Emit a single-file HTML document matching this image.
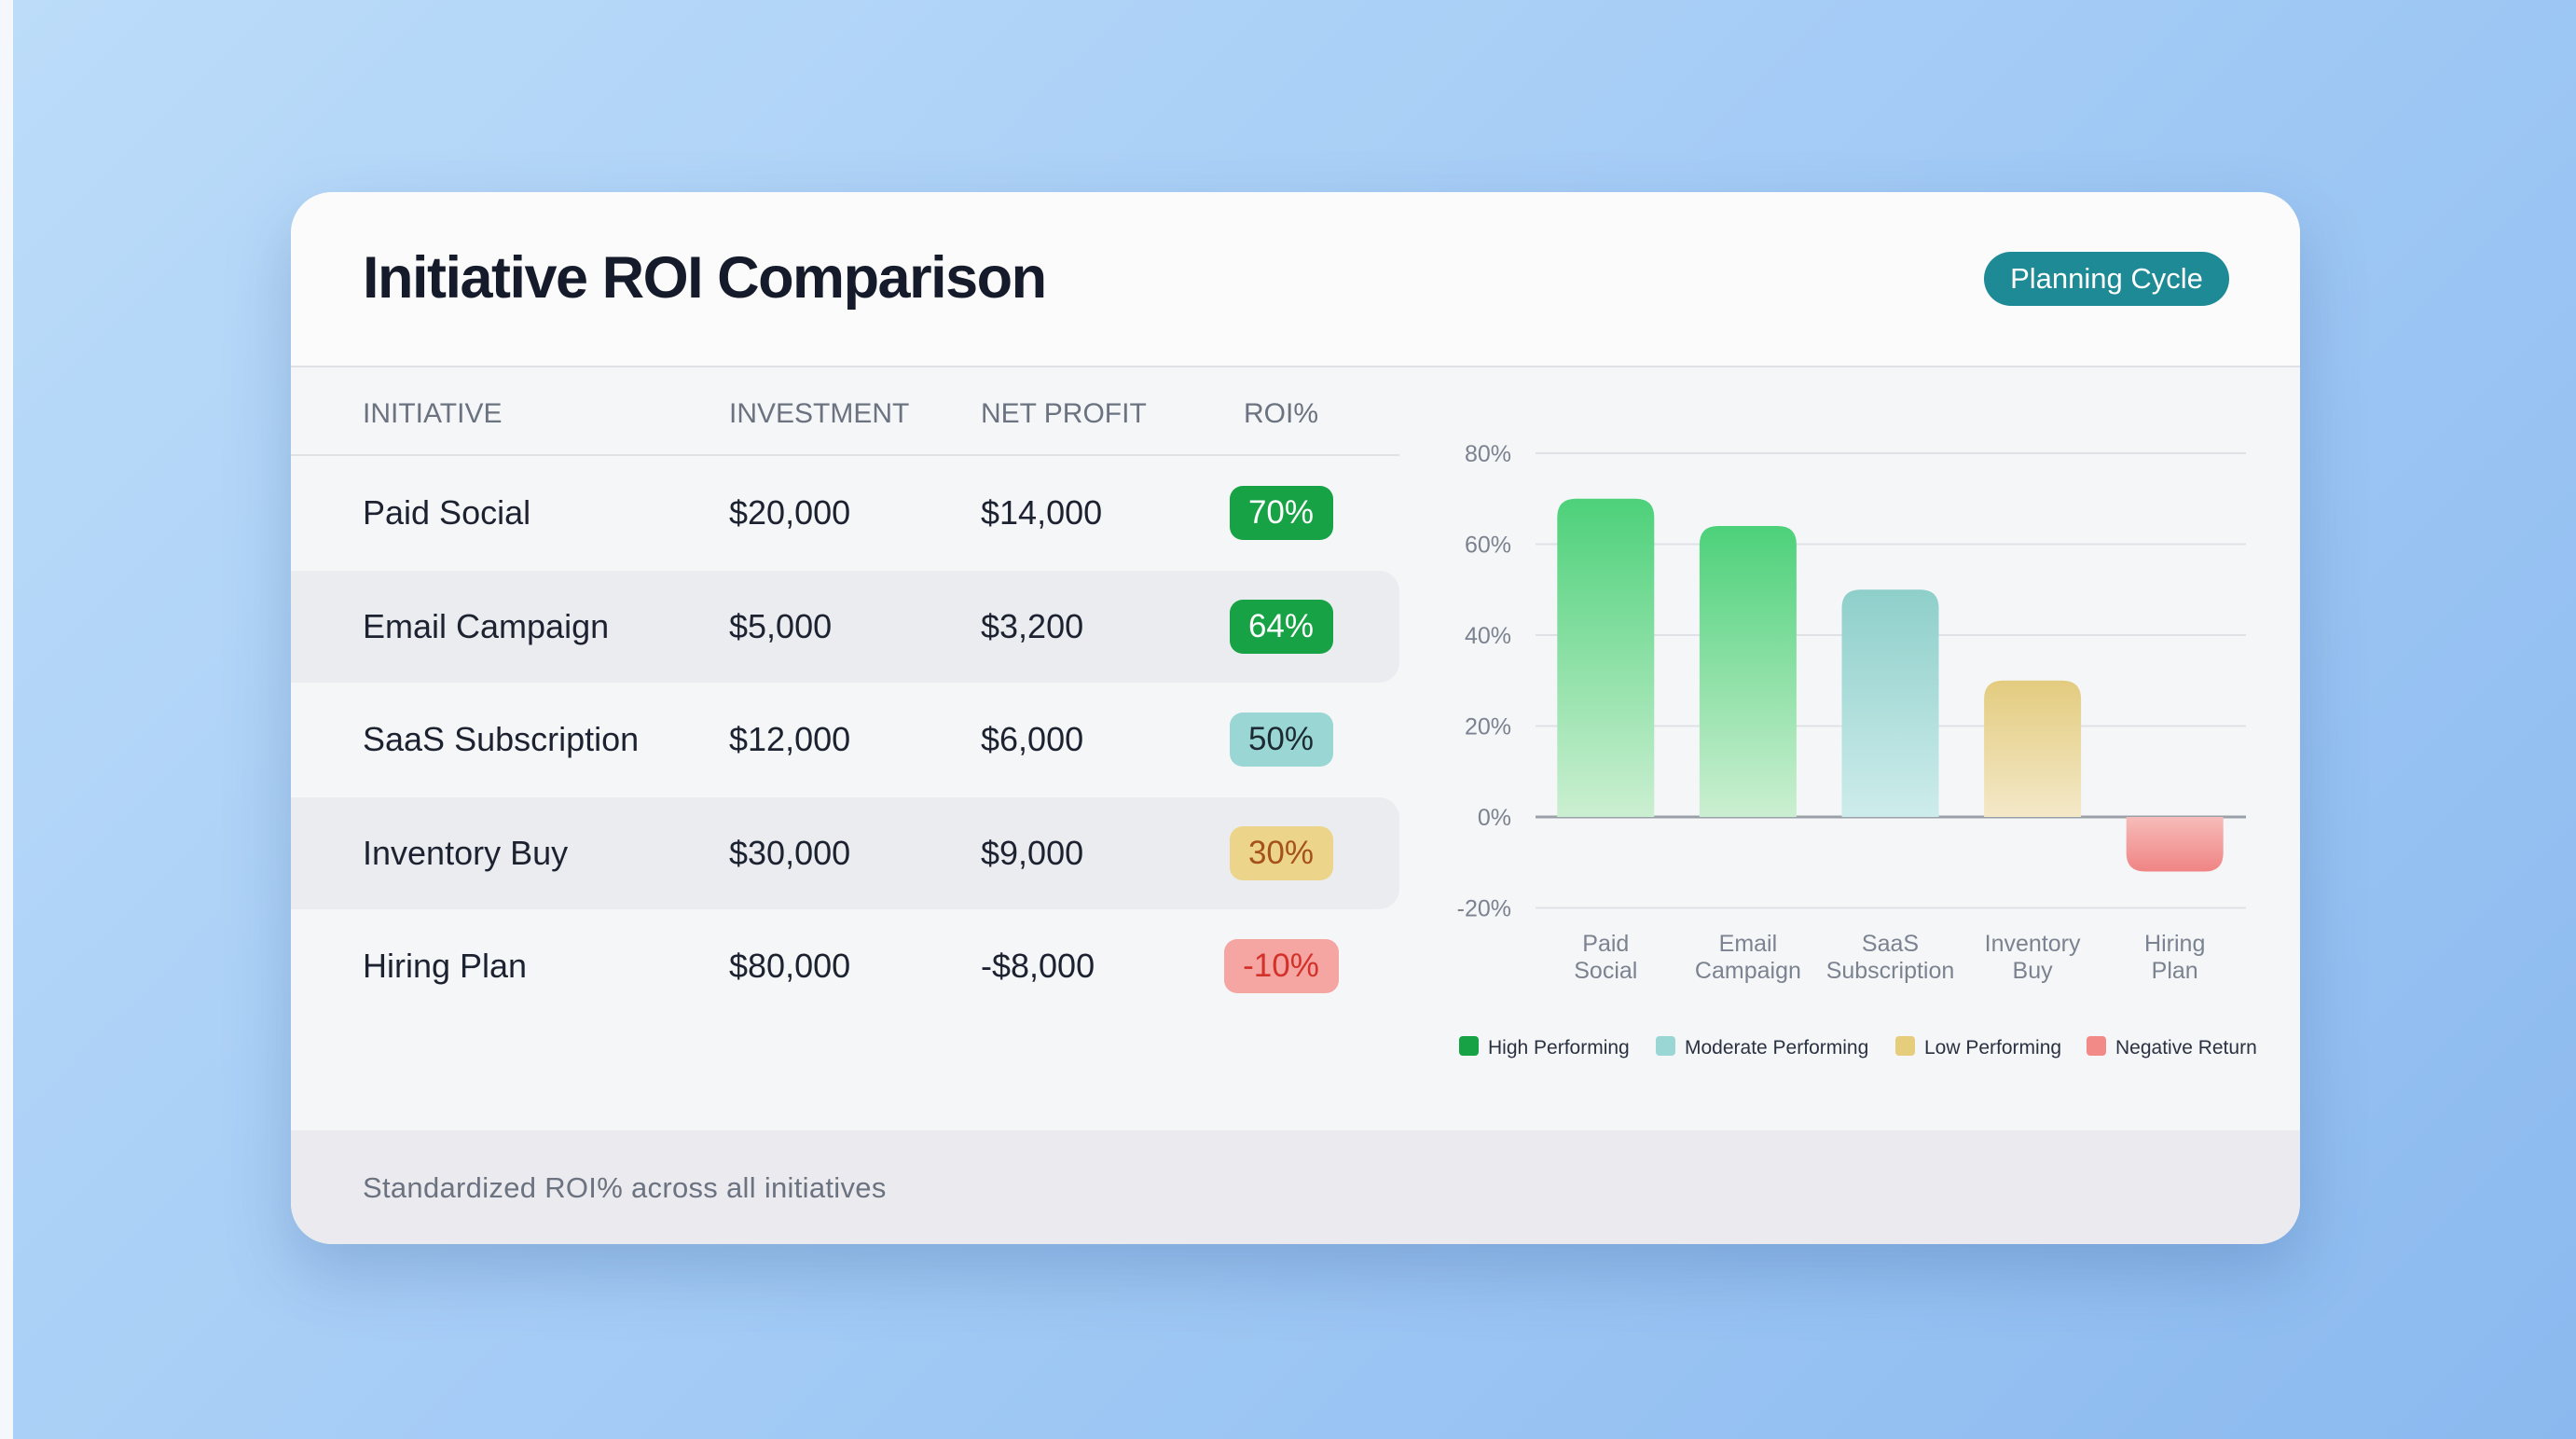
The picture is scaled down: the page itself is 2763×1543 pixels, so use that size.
<!DOCTYPE html>
<html><head><meta charset="utf-8">
<style>
html,body{margin:0;padding:0}
body{width:2763px;height:1543px;position:relative;overflow:hidden;font-family:"Liberation Sans",sans-serif;
background:linear-gradient(135deg,#bcdcf9 0%,#a6cdf6 45%,#8bb9ef 100%);}
.strip{position:absolute;left:0;top:0;width:14px;height:1543px;background:#f4f8fc}
.card{position:absolute;left:312px;top:206px;width:2155px;height:1128px;border-radius:44px;background:#f5f6f8;overflow:hidden;box-shadow:0 30px 70px rgba(40,80,140,.25)}
.hdr{position:absolute;left:0;top:0;width:100%;height:186px;background:#fbfbfb;border-bottom:2px solid #dfe1e6}
.title{position:absolute;left:77px;top:56px;font-size:63px;font-weight:bold;color:#151b2b;letter-spacing:-1.5px}
.badge{position:absolute;left:1816px;top:64px;width:263px;height:58px;border-radius:29px;background:#1e8a96;color:#fff;font-size:31px;line-height:58px;text-align:center}
.th{position:absolute;top:218px;font-size:30px;color:#6b7280;line-height:40px}
.hline{position:absolute;left:0;top:281px;width:1189px;height:2px;background:#dfe1e6}
.stripe{position:absolute;left:0;width:1189px;height:120px;background:#ebecf0;border-radius:0 22px 22px 0}
.cell{position:absolute;font-size:36px;color:#1c2230;line-height:44px}
.pill{position:absolute;height:58px;border-radius:14px;font-size:35px;line-height:58px;text-align:center}
.footer{position:absolute;left:0;top:1006px;width:100%;height:122px;background:#ebebef}
.ftext{position:absolute;left:77px;top:44px;font-size:31px;color:#6b7280;letter-spacing:0.3px}
svg{position:absolute;left:0;top:0}
</style></head><body>
<div class="strip"></div>
<div class="card">
  <div class="hdr">
    <div class="title">Initiative ROI Comparison</div>
    <div class="badge">Planning Cycle</div>
  </div>
  <div class="th" style="left:77px">INITIATIVE</div>
  <div class="th" style="left:470px">INVESTMENT</div>
  <div class="th" style="left:740px">NET PROFIT</div>
  <div class="th" style="left:1020px;width:84px;text-align:center">ROI%</div>
  <div class="hline"></div>
  <div id="rows"></div>
  <div class="footer">
    <div class="ftext">Standardized ROI% across all initiatives</div>
  </div>
  <svg id="chart" width="2155" height="1128"></svg>
</div>
<script>
const names=["Paid Social","Email Campaign","SaaS Subscription","Inventory Buy","Hiring Plan"];
const investments=["$20,000","$5,000","$12,000","$30,000","$80,000"];
const profits=["$14,000","$3,200","$6,000","$9,000","-$8,000"];
const roiLabels=["70%","64%","50%","30%","-10%"];
const barValues=[70,64,50,30,-12];
const xLabels=[["Paid","Social"],["Email","Campaign"],["SaaS","Subscription"],["Inventory","Buy"],["Hiring","Plan"]];
const yTicks=[80,60,40,20,0,-20];
const tiers=["high","high","moderate","low","negative"];
const legendLabels=["High Performing","Moderate Performing","Low Performing","Negative Return"];

const tierStyle={high:{bg:"#17a345",fg:"#ffffff",top:"#4dd17a",bot:"#cbefd1"},
 moderate:{bg:"#9ad6d3",fg:"#1c2a33",top:"#8ecfca",bot:"#cdeceb"},
 low:{bg:"#ecd58b",fg:"#a5521a",top:"#e3cc7f",bot:"#f4e8c8"},
 negative:{bg:"#f5a5a2",fg:"#d3312a",top:"#f6bcb9",bot:"#f08484"}};
const legendColors=["#17a345","#9ad6d3","#e6cd7c","#f28b88"];

const rows=document.getElementById('rows');
names.forEach((n,i)=>{
  const cy=344+i*121.5;
  if(i%2===1){const s=document.createElement('div');s.className='stripe';s.style.top=(cy-60)+'px';
  
  
  rows.appendChild(s);}
  const mk=(txt,left,name)=>{const d=document.createElement('div');d.className='cell';d.textContent=txt;d.style.left=left+'px';d.style.top=(cy-22)+'px';
  
  
  rows.appendChild(d);};
  mk(n,77,'initiative-name');mk(investments[i],470,'investment-value');mk(profits[i],740,'net-profit-value');
  const st=tierStyle[tiers[i]];const p=document.createElement('div');p.className='pill';
  const w=roiLabels[i].length>3?123:111;p.style.width=w+'px';p.style.left=(1062-w/2)+'px';p.style.top=(cy-29)+'px';
  p.style.background=st.bg;p.style.color=st.fg;p.textContent=roiLabels[i];
  
  
  rows.appendChild(p);
});

const svg=document.getElementById('chart');const NS="http://www.w3.org/2000/svg";
const ox=312,oy=206;
const y0=876-oy, pxPer=(876-486)/80;
const yScale=v=>y0-v*pxPer;
const xLeft=1647-ox,xRight=2409-ox,bandStart=1646-ox,band=(2409-1646)/5;
const xCenter=i=>bandStart+band*(i+0.5);
const barW=104,r=20;
function el(t,a){const e=document.createElementNS(NS,t);for(const k in a)e.setAttribute(k,a[k]);svg.appendChild(e);return e;}
const defs=el('defs',{});
yTicks.forEach(t=>{
  const g=el('line',{x1:xLeft,x2:xRight,y1:yScale(t),y2:yScale(t),stroke:t===0?'#9aa0a8':'#dfe1e6','stroke-width':t===0?3:2});
  
  
  const tx=el('text',{x:1621-ox,y:yScale(t)+9,'text-anchor':'end','font-size':25,fill:'#7b8290','font-family':'Liberation Sans, sans-serif'});
  tx.textContent=t+'%';
  
  
});
barValues.forEach((v,i)=>{
  const st=tierStyle[tiers[i]];
  const lg=document.createElementNS(NS,'linearGradient');lg.setAttribute('id','g'+i);lg.setAttribute('x1',0);lg.setAttribute('x2',0);lg.setAttribute('y1',0);lg.setAttribute('y2',1);
  [[0,st.top],[1,st.bot]].forEach(([o,c])=>{const s=document.createElementNS(NS,'stop');s.setAttribute('offset',o);s.setAttribute('stop-color',c);lg.appendChild(s);});
  defs.appendChild(lg);
  const x=xCenter(i)-barW/2,yt=yScale(Math.max(v,0)),yb=yScale(Math.min(v,0));
  let d;
  if(v>=0)d=`M${x},${yb}V${yt+r}Q${x},${yt} ${x+r},${yt}H${x+barW-r}Q${x+barW},${yt} ${x+barW},${yt+r}V${yb}Z`;
  else d=`M${x},${yt}V${yb-r}Q${x},${yb} ${x+r},${yb}H${x+barW-r}Q${x+barW},${yb} ${x+barW},${yb-r}V${yt}Z`;
  const b=el('path',{d:d,fill:`url(#g${i})`});
  
  
  xLabels[i].forEach((ln,j)=>{
    const t=el('text',{x:xCenter(i),y:1020-oy+j*29,'text-anchor':'middle','font-size':25,fill:'#7b8290','font-family':'Liberation Sans, sans-serif'});
    t.textContent=ln;
    
    
  });
});
svg.insertBefore(defs,svg.firstChild);
const legX=[1565,1776,2033,2238];
legendLabels.forEach((l,i)=>{
  const x=legX[i]-ox,y=1122-oy;
  const s=el('rect',{x:x,y:y-11,width:21,height:21,rx:4,fill:legendColors[i]});
  
  
  const t=el('text',{x:x+31,y:y+8,'font-size':21,fill:'#2a3140','font-family':'Liberation Sans, sans-serif'});
  t.textContent=l;
  
  
});
</script>
</body></html>
